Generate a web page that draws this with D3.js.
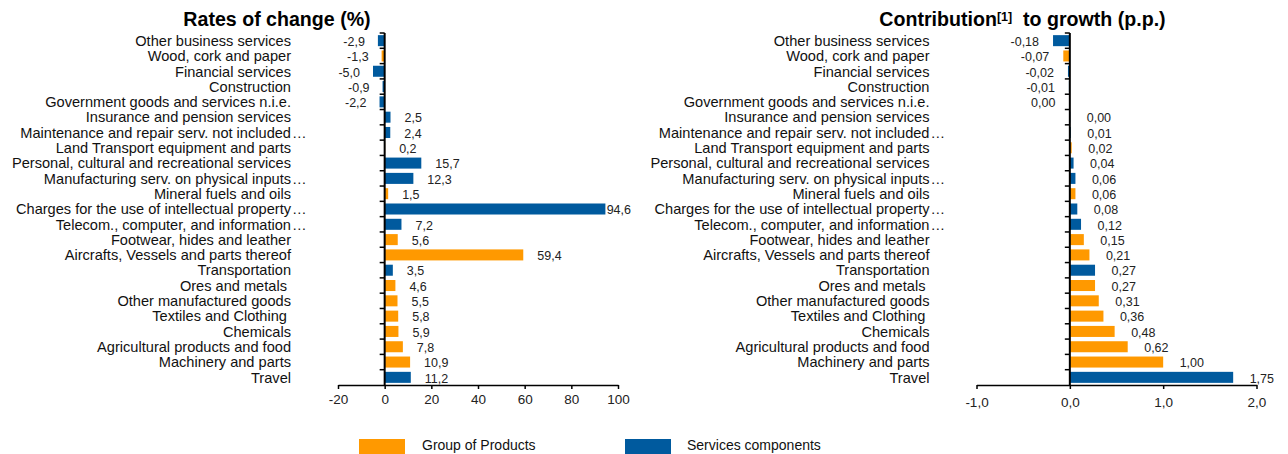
<!DOCTYPE html>
<html>
<head>
<meta charset="utf-8">
<script src="https://cdn.jsdelivr.net/npm/d3@7"></script>
<style>
  body { margin: 0; background: #fff; }
  text { font-family: "Liberation Sans", Arial, sans-serif; white-space: pre; }
</style>
</head>
<body>
<svg id="chart"></svg>
<script>
// categories top to bottom, same order in both panels
const categories = [
    "Other business services",
    "Wood, cork and paper",
    "Financial services",
    "Construction",
    "Government goods and services n.i.e.",
    "Insurance and pension services",
    "Maintenance and repair serv. not included…",
    "Land Transport equipment and parts",
    "Personal, cultural and recreational services",
    "Manufacturing serv. on physical inputs…",
    "Mineral fuels and oils",
    "Charges for the use of intellectual property…",
    "Telecom., computer, and information…",
    "Footwear, hides and leather",
    "Aircrafts, Vessels and parts thereof",
    "Transportation",
    "Ores and metals ",
    "Other manufactured goods",
    "Textiles and Clothing ",
    "Chemicals",
    "Agricultural products and food",
    "Machinery and parts",
    "Travel"
];

// "p" = group of products, "s" = services components
const groups = ["s", "p", "s", "s", "s", "s", "s", "p", "s", "s", "p", "s", "s", "p", "p", "s", "p", "p", "p", "p", "p", "p", "s"];

// rates of change (%)
const rates = [-2.9, -1.3, -5.0, -0.9, -2.2, 2.5, 2.4, 0.2, 15.7, 12.3, 1.5, 94.6, 7.2, 5.6, 59.4, 3.5, 4.6, 5.5, 5.8, 5.9, 7.8, 10.9, 11.2];

// contribution to growth (p.p.)
const contributions = [-0.18, -0.07, -0.02, -0.01, -0.004, 0.004, 0.01, 0.02, 0.04, 0.06, 0.06, 0.08, 0.12, 0.15, 0.21, 0.27, 0.27, 0.31, 0.36, 0.48, 0.62, 1.00, 1.75];

const rateTicks = [-20, 0, 20, 40, 60, 80, 100];
const contribTicks = [-1, 0, 1, 2];

const legendLabels = ["Group of Products", "Services components"];

const colors = { p: "#ff9900", s: "#005a9e" };

const W = 1288, H = 454;
const svg = d3.select("#chart").attr("width", W).attr("height", H);
svg.append("rect").attr("width", W).attr("height", H).attr("fill", "#fff");

// comma decimal formatter, plain hyphen for negatives
function commaFmt(digits) {
    return v => {
        let s = Math.abs(v).toFixed(digits);
        if (+s === 0) return s.replace(".", ",");
        return (v < 0 ? "-" : "") + s.replace(".", ",");
    };
}

function drawPanel(opts) {
    const g = svg.append("g");

    const x = d3.scaleLinear().domain(opts.domain).range(opts.xRange);
    const y = d3.scaleBand()
        .domain(categories)
        .range([33, 385])
        .paddingInner(0.28)
        .paddingOuter(0.14);

    const x0 = x(0);
    const step = y.step();

    // bars
    g.selectAll(".bar")
        .data(opts.values)
        .enter()
        .append("rect")
        .attr("x", d => Math.min(x(d), x0))
        .attr("y", (d, i) => y(categories[i]))
        .attr("width", d => Math.abs(x(d) - x0))
        .attr("height", y.bandwidth())
        .attr("fill", (d, i) => colors[groups[i]]);

    // category labels, ellipsis hangs past the anchor like the original
    categories.forEach(c => {
        const cy = y(c) + y.bandwidth() / 2;
        const hasDots = c.endsWith("…");
        const base = hasDots ? c.slice(0, -1) : c;
        g.append("text")
            .attr("x", opts.labelX)
            .attr("y", cy)
            .attr("dy", "0.36em")
            .attr("text-anchor", "end")
            .style("font-size", "14.6px")
            .attr("fill", "#111")
            .text(base);
        if (hasDots) {
            g.append("text")
                .attr("x", opts.labelX + 1)
                .attr("y", cy)
                .attr("dy", "0.36em")
                .style("font-size", "14.6px")
                .attr("fill", "#111")
                .text("…");
        }
    });

    // value labels
    const fmt = commaFmt(opts.digits);
    opts.values.forEach((v, i) => {
        const cy = y(categories[i]) + y.bandwidth() / 2;
        const t = g.append("text")
            .attr("y", cy)
            .attr("dy", "0.42em")
            .style("font-size", "12.5px")
            .attr("fill", "#222")
            .text(fmt(v));
        if (v < 0) {
            t.attr("text-anchor", "end").attr("x", x(v) - opts.negGap);
        } else {
            const w = t.node().getComputedTextLength();
            let sx = x(v) + opts.posGap;
            if (sx + w > opts.clampX) sx = opts.clampX - w;
            t.attr("x", sx);
        }
    });

    // category tick marks on the left of the value axis
    for (let k = 0; k < categories.length; k++) {
        const ty = y(categories[k]) - step * 0.14;
        g.append("line")
            .attr("x1", x0 - 5).attr("x2", x0)
            .attr("y1", ty).attr("y2", ty)
            .attr("stroke", "#000").attr("stroke-width", 1.5);
    }

    // vertical axis line
    g.append("line")
        .attr("x1", x0).attr("x2", x0)
        .attr("y1", 33).attr("y2", 385)
        .attr("stroke", "#000").attr("stroke-width", 2);

    // horizontal axis
    const axis = g.append("g")
        .attr("transform", "translate(0,385)")
        .call(d3.axisBottom(x)
            .tickValues(opts.ticks)
            .tickSize(4)
            .tickSizeOuter(0)
            .tickPadding(opts.tickPad)
            .tickFormat(opts.tickFmt));
    axis.select(".domain").attr("stroke", "#000").attr("stroke-width", 1.5);
    axis.selectAll(".tick line").attr("stroke", "#000").attr("stroke-width", 1.5);
    axis.selectAll(".tick text")
        .style("font-size", "13.5px")
        .style("font-family", "'Liberation Sans', Arial, sans-serif")
        .attr("fill", "#222");

    // title
    const title = g.append("text")
        .attr("x", opts.titleX)
        .attr("y", 25.5)
        .attr("text-anchor", "middle")
        .style("font-size", "19.6px")
        .style("font-weight", "bold")
        .attr("fill", "#000");
    opts.title.forEach(part => {
        const ts = title.append("tspan").text(part.t);
        if (part.sup) ts.style("font-size", "12.5px").attr("baseline-shift", "40%");
    });
}

drawPanel({
    values: rates,
    domain: [-20, 100],
    xRange: [338, 618],
    ticks: rateTicks,
    tickFmt: d => (d < 0 ? "-" : "") + Math.abs(d),
    tickPad: 5,
    digits: 1,
    labelX: 291,
    posGap: 14,
    negGap: 13,
    clampX: 631,
    titleX: 277,
    title: [{ t: "Rates of change (%)" }]
});

drawPanel({
    values: contributions,
    domain: [-1, 2],
    xRange: [976.5, 1256.5],
    ticks: contribTicks,
    tickFmt: d => (d < 0 ? "-" : "") + Math.abs(d).toFixed(1).replace(".", ","),
    tickPad: 8,
    digits: 2,
    labelX: 929.5,
    posGap: 16.5,
    negGap: 14,
    clampX: 1286,
    titleX: 1022.5,
    title: [{ t: "Contribution" }, { t: "[1]", sup: true }, { t: "  to growth (p.p.)" }]
});

// legend
const legend = svg.append("g");
const legendItems = [
    { key: "p", rx: 359, tx: 422 },
    { key: "s", rx: 625, tx: 687 }
];
legendItems.forEach((it, i) => {
    legend.append("rect")
        .attr("x", it.rx).attr("y", 439)
        .attr("width", 46).attr("height", 16)
        .attr("fill", colors[it.key]);
    legend.append("text")
        .attr("x", it.tx).attr("y", 450)
        .style("font-size", "14px")
        .attr("fill", "#111")
        .text(legendLabels[i]);
});
</script>
</body>
</html>
